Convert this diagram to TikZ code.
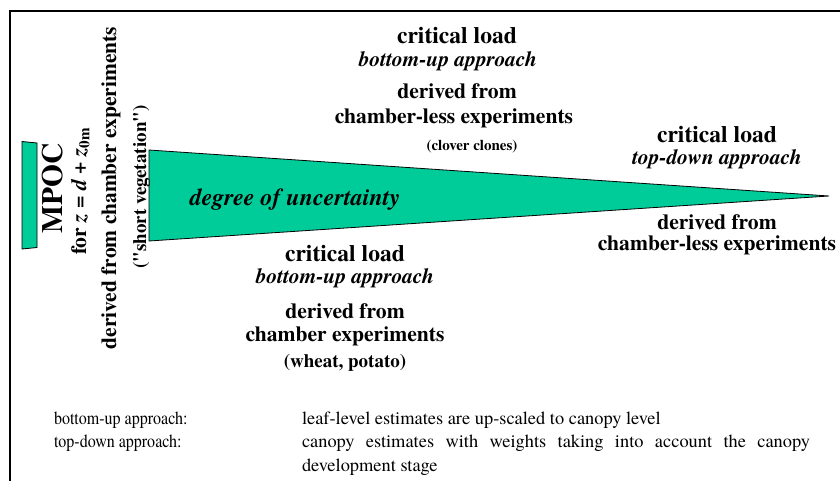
\documentclass[tikz,border=0pt]{standalone}
\usepackage{fontspec}
\setmainfont{TeX Gyre Termes}
\newfontfamily\plainquote{TeX Gyre Termes}[Ligatures=TeXOff]
\newfontfamily\narrowserif{TeX Gyre Termes}[FakeStretch=0.87]
\definecolor{tealgreen}{RGB}{0,204,153}
\tikzset{
  txt/.style={inner sep=0pt, outer sep=0pt, anchor=base},
  cl/.style={txt, font=\fontsize{23.6}{28}\selectfont\bfseries},
  appr/.style={txt, font=\fontsize{21.4}{26}\selectfont\bfseries\itshape},
  der/.style={txt, font=\fontsize{21.6}{26}\selectfont\bfseries},
  note/.style={inner sep=0pt, outer sep=0pt, anchor=base west, font=\fontsize{18.4}{22}\selectfont},
  notel/.style={inner sep=0pt, outer sep=0pt, anchor=base west, font=\narrowserif\fontsize{18.4}{22}\selectfont},
  greenshape/.style={fill=tealgreen, draw=black, line width=0.8pt, line join=miter},
  vert/.style={rotate=90}
}
\begin{document}
\begin{tikzpicture}[x=1pt, y=-1pt]
\useasboundingbox (0,0) rectangle (840,481);
% frame
\coordinate (fa) at (10,481);
\coordinate (fb) at (10,11);
\coordinate (fc) at (840,11);
\draw[line width=2pt] (fa) -- (fb) -- (fc);
% shapes
\draw[greenshape] (22,141.5) -- (37,143) -- (37,247.5) -- (22,249) -- cycle;
\draw[greenshape] (149,150) -- (829,196) -- (149,241) -- cycle;
\node[txt, font=\fontsize{24}{28}\selectfont\bfseries\itshape] (unc) at (295,205) {degree of uncertainty};
% top group
\node[cl] (t1) at (457,44) {critical load};
\node[appr] (t2) at (448,67) {bottom-up approach};
\node[der] (t3) at (457,99) {derived from};
\node[der] (t4) at (454,124) {chamber-less experiments};
\node[txt, font=\fontsize{15}{18}\selectfont\bfseries] (t5) at (472,151) {(clover clones)};
% bottom group
\node[cl] (b1) at (345,261) {critical load};
\node[appr] (b2) at (345,283) {bottom-up approach};
\node[der] (b3) at (345,318) {derived from};
\node[der] (b4) at (345,341) {chamber experiments};
\node[txt, font=\fontsize{19}{22}\selectfont\bfseries] (b5) at (345,367) {(wheat, potato)};
% right group
\node[cl] (r1) at (717,143) {critical load};
\node[appr] (r2) at (717,165) {top-down approach};
\node[der] (r3) at (717,229) {derived from};
\node[der] (r4) at (717,250) {chamber-less experiments};
% left vertical
\node[txt, vert, font=\fontsize{29.5}{32}\selectfont\bfseries] (m1) at (62,188) {MPOC};
\node[txt, vert, font=\fontsize{21.6}{26}\selectfont\bfseries] (m2) at (86,191) {for \textit{z} = \textit{d} + \textit{z}\textsubscript{0m}};
\node[txt, vert, font=\fontsize{21.5}{26}\selectfont\bfseries] (m3) at (116,188) {derived from chamber experiments};
\node[txt, vert, font=\plainquote\fontsize{19}{22}\selectfont\bfseries] (m4) at (146,187) {("short vegetation")};
% notes
\node[notel] (n1) at (54,424) {bottom-up approach:};
\node[notel] (n2) at (54,447) {top-down approach:};
\node[note] (n3) at (302,424) {leaf-level estimates are up-scaled to canopy level};
\node[note] (n4) at (302,447) {\makebox[508pt][s]{canopy estimates with weights taking into account the canopy}};
\node[note] (n5) at (302,471) {development stage};
\end{tikzpicture}
\end{document}
